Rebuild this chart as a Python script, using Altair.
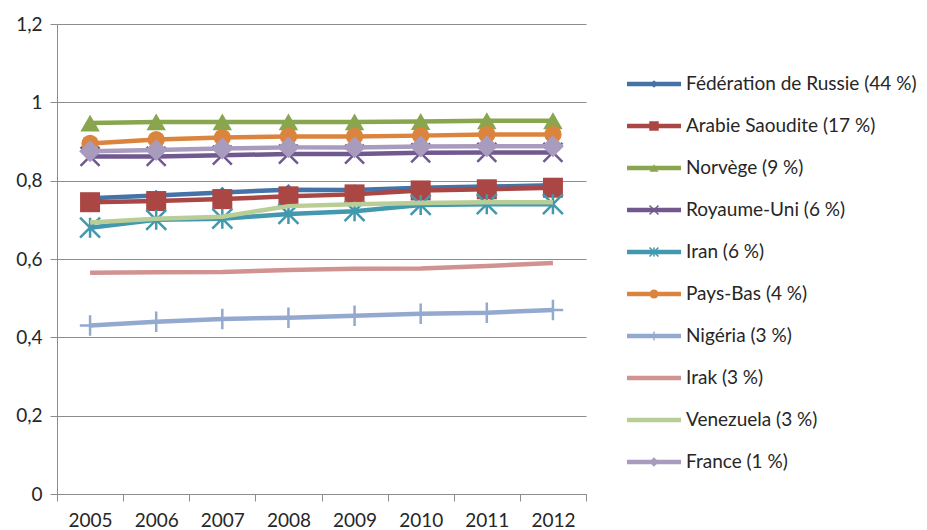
import altair as alt
import pandas as pd

years = ["2005", "2006", "2007", "2008", "2009", "2010", "2011", "2012"]

labels = [
    "Fédération de Russie (44 %)",
    "Arabie Saoudite (17 %)",
    "Norvège (9 %)",
    "Royaume-Uni (6 %)",
    "Iran (6 %)",
    "Pays-Bas (4 %)",
    "Nigéria (3 %)",
    "Irak (3 %)",
    "Venezuela (3 %)",
    "France (1 %)",
]
colors = ["#4572A7", "#AA4643", "#89A54E", "#71588F", "#4198AF",
          "#DB843D", "#93A9CF", "#D19392", "#B9CD96", "#A99BBD"]

russie = [0.755, 0.762, 0.770, 0.777, 0.776, 0.782, 0.785, 0.788]
arabie = [0.745, 0.748, 0.753, 0.760, 0.765, 0.775, 0.778, 0.782]
norvege = [0.947, 0.950, 0.950, 0.950, 0.950, 0.951, 0.953, 0.953]
royaume_uni = [0.862, 0.862, 0.865, 0.868, 0.868, 0.871, 0.872, 0.872]
iran = [0.680, 0.700, 0.703, 0.715, 0.722, 0.738, 0.740, 0.740]
pays_bas = [0.895, 0.905, 0.910, 0.913, 0.913, 0.915, 0.918, 0.918]
nigeria = [0.430, 0.440, 0.447, 0.450, 0.455, 0.460, 0.463, 0.470]
irak = [0.565, 0.566, 0.567, 0.572, 0.575, 0.576, 0.582, 0.590]
venezuela = [0.693, 0.703, 0.708, 0.735, 0.740, 0.743, 0.745, 0.745]
france = [0.875, 0.878, 0.882, 0.885, 0.885, 0.887, 0.888, 0.888]

series = [russie, arabie, norvege, royaume_uni, iran, pays_bas, nigeria, irak, venezuela, france]

X_PATH = "M-1,-1L1,1M1,-1L-1,1"
AST_PATH = "M-1,-1L1,1M1,-1L-1,1M0,-1L0,1"
PLUS_PATH = "M-1,0L1,0M0,-1L0,1"

# (shape, filled, size in plot, size in legend)
markers = [
    ("diamond", True, 130, 60),
    ("square", True, 400, 90),
    ("triangle-up", True, 380, 80),
    (X_PATH, False, 360, 80),
    (AST_PATH, False, 400, 80),
    ("circle", True, 300, 80),
    (PLUS_PATH, False, 420, 80),
    (None, None, 0, 0),
    (None, None, 0, 0),
    ("diamond", True, 480, 90),
]

FONT = "Lato"
FS = 19
GRID = "#8c8c8c"
TEXT = "#262626"

xscale = alt.Scale(type="band", paddingInner=0, paddingOuter=0, domain=years)
yscale = alt.Scale(domain=[0, 1.2], nice=False)
xaxis = alt.Axis(title=None, labelAngle=0, tickBand="extent", grid=False,
                 ticks=True, tickSize=7, tickColor=GRID, domainColor=GRID,
                 labelFontSize=FS, labelFont=FONT, labelColor=TEXT, labelPadding=10)
yaxis = alt.Axis(title=None, values=[0, 0.2, 0.4, 0.6, 0.8, 1.0, 1.2],
                 labelExpr="replace(format(datum.value, '~g'), '.', ',')",
                 grid=True, gridColor=GRID, gridWidth=1, tickSize=7, tickColor=GRID,
                 domainColor=GRID, labelFontSize=FS, labelFont=FONT, labelColor=TEXT,
                 labelPadding=8)

layers = []
for lab, col, vals, mk in zip(labels, colors, series, markers):
    df = pd.DataFrame({"year": years, "value": vals, "serie": lab})
    enc = dict(
        x=alt.X("year:O", scale=xscale, axis=xaxis, bandPosition=0.5),
        y=alt.Y("value:Q", scale=yscale, axis=yaxis),
    )
    layers.append(alt.Chart(df).mark_line(color=col, strokeWidth=4.5).encode(**enc))
    shape, filled, size, _ = mk
    if shape is not None:
        if filled:
            pm = alt.Chart(df).mark_point(shape=shape, filled=True, size=size,
                                          color=col, opacity=1, strokeWidth=0)
        else:
            pm = alt.Chart(df).mark_point(shape=shape, filled=False, size=size,
                                          color=col, opacity=1, strokeWidth=2.5)
        layers.append(pm.encode(**enc))

main = alt.layer(*layers).properties(width=529, height=470)

leg = pd.DataFrame({
    "label": labels,
    "color": colors,
    "shape": [m[0] if m[0] else "circle" for m in markers],
    "filled": [m[1] for m in markers],
    "lsize": [m[3] for m in markers],
})
ly = alt.Y("label:N", sort=labels,
           scale=alt.Scale(type="point", domain=labels, range=[60, 438], padding=0),
           axis=None)
lcol = alt.Color("label:N", scale=alt.Scale(domain=labels, range=colors), legend=None)
lshape = alt.Shape("label:N", scale=alt.Scale(domain=labels, range=list(leg["shape"])), legend=None)

leg_lines = alt.Chart(leg).mark_rule(strokeWidth=4.5).encode(
    y=ly, x=alt.value(40), x2=alt.value(94), color=lcol)
leg_fill = alt.Chart(leg).transform_filter("datum.filled === true").mark_point(
    filled=True, opacity=1, strokeWidth=0).encode(
    y=ly, x=alt.value(67), color=lcol, shape=lshape,
    size=alt.Size("lsize:Q", scale=None, legend=None))
leg_stroke = alt.Chart(leg).transform_filter("datum.filled === false").mark_point(
    filled=False, opacity=1, strokeWidth=1.5).encode(
    y=ly, x=alt.value(67), color=lcol, shape=lshape,
    size=alt.Size("lsize:Q", scale=None, legend=None))
leg_text = alt.Chart(leg).mark_text(align="left", baseline="middle", fontSize=FS,
                                    font=FONT, color=TEXT).encode(
    y=ly, x=alt.value(99), text="label:N")

legend = alt.layer(leg_lines, leg_fill, leg_stroke, leg_text).properties(width=330, height=470)

chart = alt.hconcat(main, legend, spacing=0).resolve_scale(
    color="independent", shape="independent"
).properties(
    padding={"left": 7, "top": 7, "right": 0, "bottom": 0},
    background="white",
).configure_view(stroke=None)

chart.save("out.html", embed_options={"renderer": "svg", "actions": False})
